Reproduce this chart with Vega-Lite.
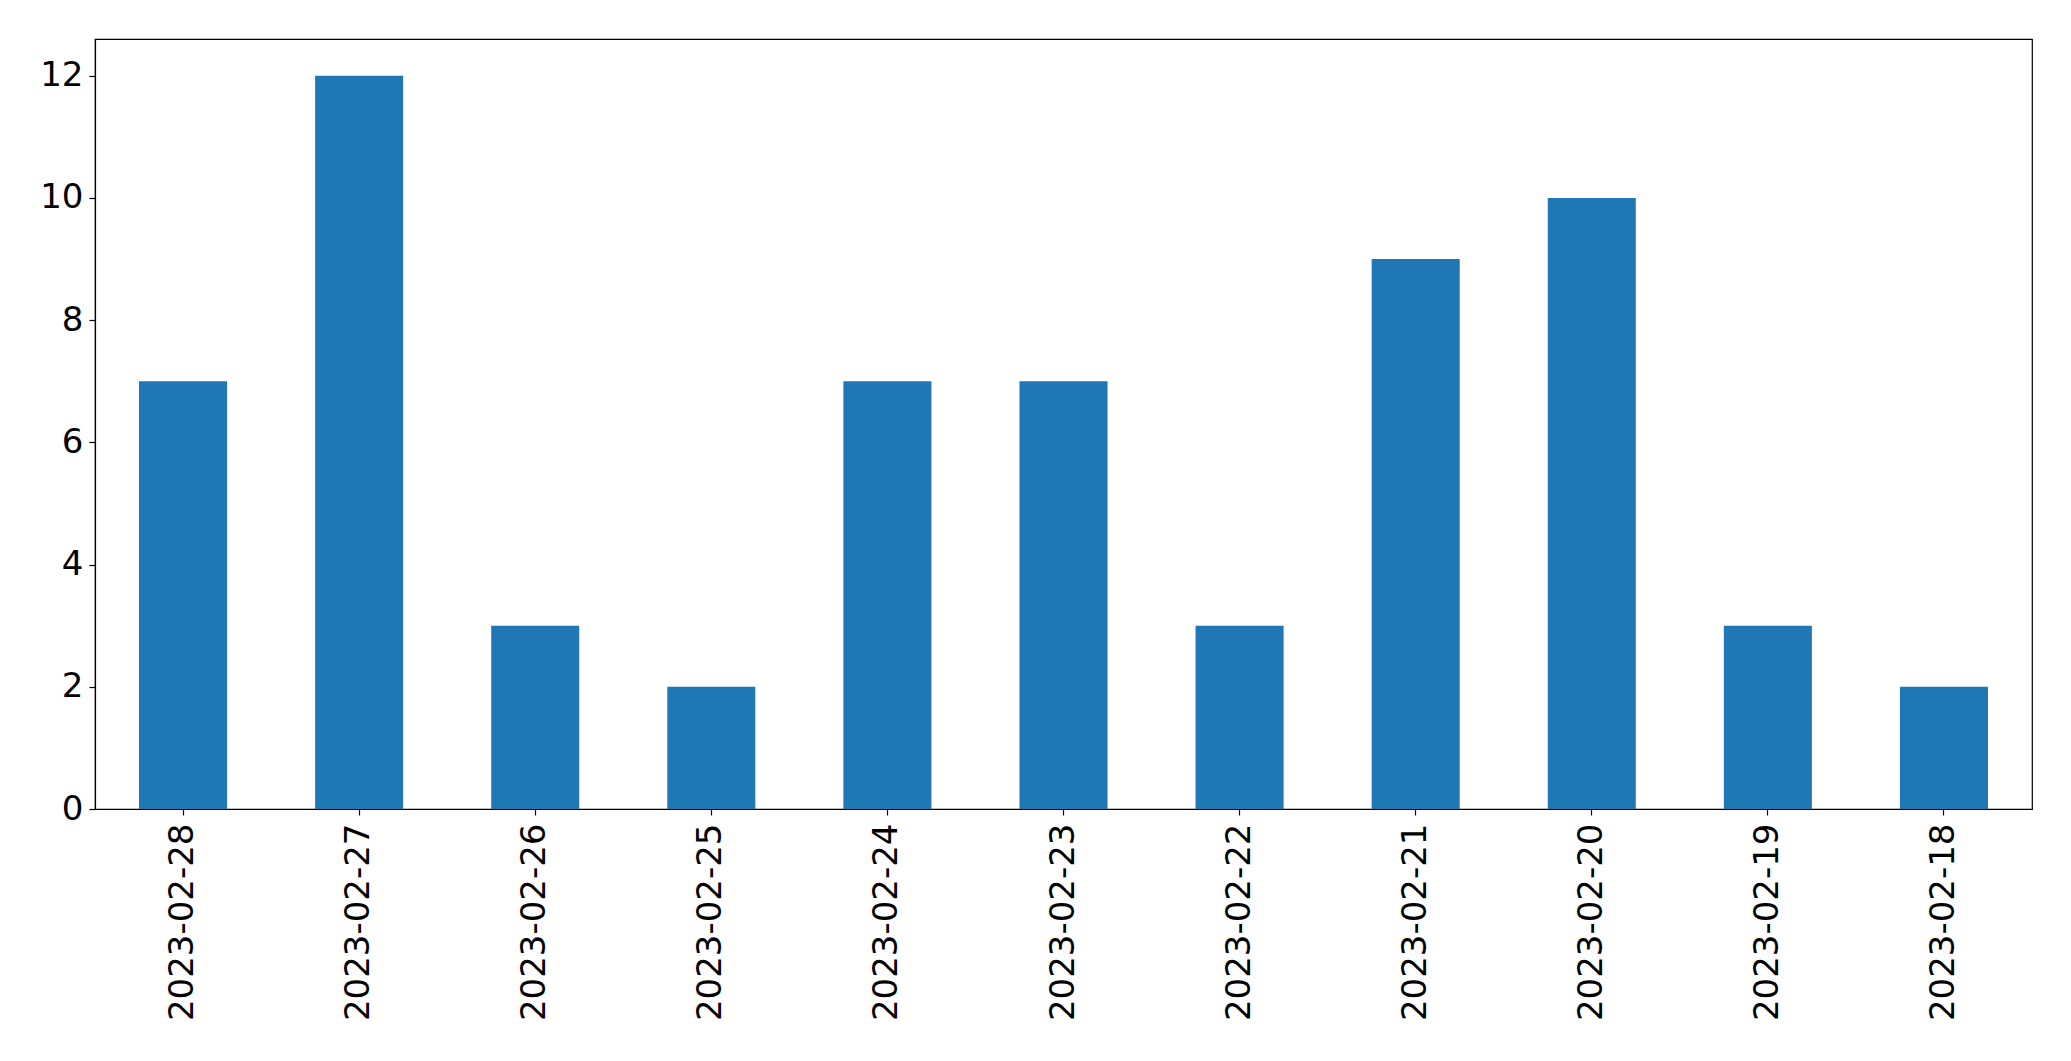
{
  "$schema": "https://vega.github.io/schema/vega-lite/v6.json",
  "width": 1937,
  "height": 770,
  "autosize": {"type": "none"},
  "padding": {"left": 95, "top": 39, "right": 39, "bottom": 252},
  "background": "white",
  "view": {"stroke": "#000000", "strokeWidth": 1.2},
  "config": {
    "font": "DejaVu Sans",
    "axis": {
      "labelFont": "DejaVu Sans",
      "labelFontSize": 34,
      "labelColor": "black",
      "labelLimit": 0,
      "domainColor": "black",
      "tickColor": "black",
      "tickSize": 6,
      "tickWidth": 1.2,
      "domainWidth": 1.2,
      "grid": false
    }
  },
  "data": {
    "values": [
      {"date": "2023-02-28", "count": 7},
      {"date": "2023-02-27", "count": 12},
      {"date": "2023-02-26", "count": 3},
      {"date": "2023-02-25", "count": 2},
      {"date": "2023-02-24", "count": 7},
      {"date": "2023-02-23", "count": 7},
      {"date": "2023-02-22", "count": 3},
      {"date": "2023-02-21", "count": 9},
      {"date": "2023-02-20", "count": 10},
      {"date": "2023-02-19", "count": 3},
      {"date": "2023-02-18", "count": 2}
    ]
  },
  "mark": {"type": "bar", "color": "#1f77b4"},
  "encoding": {
    "x": {
      "field": "date",
      "type": "nominal",
      "sort": null,
      "scale": {"paddingInner": 0.5, "paddingOuter": 0.25},
      "axis": {"labelAngle": -90, "labelPadding": 8, "labelFontSize": 34, "labelLimit": 0, "title": null}
    },
    "y": {
      "field": "count",
      "type": "quantitative",
      "scale": {"domain": [0, 12.6], "nice": false},
      "axis": {"values": [0, 2, 4, 6, 8, 10, 12], "labelPadding": 6, "labelFontSize": 34, "title": null}
    }
  }
}
